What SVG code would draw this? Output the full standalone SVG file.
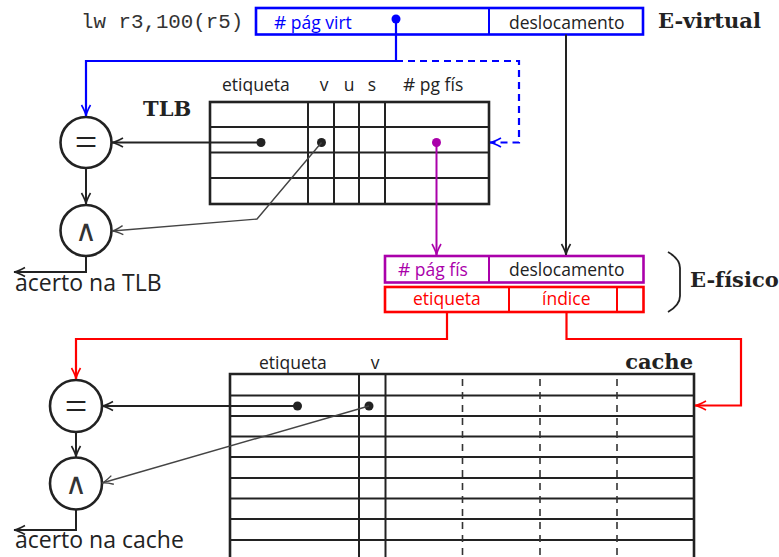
<svg xmlns="http://www.w3.org/2000/svg" width="779" height="557" viewBox="0 0 779 557">
<defs>
<style>
.lbl{font-family:"Open Sans","DejaVu Sans",sans-serif;font-size:17.5px;fill:#222}
.big{font-family:"Open Sans","DejaVu Sans",sans-serif;font-size:23px;fill:#222}
.ttl{font-family:"DejaVu Serif","Liberation Serif",serif;font-weight:bold;font-size:21px;fill:#222}
.mono{font-family:"Liberation Mono","DejaVu Sans Mono",monospace;font-size:20.8px;fill:#333}
.tbl{fill:none;stroke:#222;stroke-width:2.6}
.grid{stroke:#222;stroke-width:2}
.dash{stroke:#333;stroke-width:1.6;stroke-dasharray:7 6}
.circ{fill:#fff;stroke:#222;stroke-width:2.6}
.eq{font-family:"Liberation Serif","Times New Roman",serif;font-size:40px;fill:#222;text-anchor:middle}
.and{font-family:"DejaVu Sans",sans-serif;font-weight:200;font-size:30px;fill:#333;text-anchor:middle}
.c-blk{fill:none;stroke:#222;stroke-width:2}
.c-gry{fill:none;stroke:#444;stroke-width:1.4}
.c-blu{fill:none;stroke:#0000ff;stroke-width:2.2}
.c-mag{fill:none;stroke:#aa00aa;stroke-width:2}
.c-red{fill:none;stroke:#ff0000;stroke-width:2.2}
.dot{fill:#222}
</style>
<marker id="ak" viewBox="-12 -6 14 12" refX="0" refY="0" markerWidth="14" markerHeight="12" markerUnits="userSpaceOnUse" orient="auto"><path d="M-11,-4.5 Q-4,-0.6 0,0 Q-4,0.6 -11,4.5" fill="none" stroke="#222" stroke-width="1.6"/></marker>
<marker id="ag" viewBox="-12 -6 14 12" refX="0" refY="0" markerWidth="14" markerHeight="12" markerUnits="userSpaceOnUse" orient="auto"><path d="M-11,-4.5 Q-4,-0.6 0,0 Q-4,0.6 -11,4.5" fill="none" stroke="#444" stroke-width="1.4"/></marker>
<marker id="ab" viewBox="-12 -6 14 12" refX="0" refY="0" markerWidth="14" markerHeight="12" markerUnits="userSpaceOnUse" orient="auto"><path d="M-11,-4.5 Q-4,-0.6 0,0 Q-4,0.6 -11,4.5" fill="none" stroke="#0000ff" stroke-width="1.6"/></marker>
<marker id="am" viewBox="-12 -6 14 12" refX="0" refY="0" markerWidth="14" markerHeight="12" markerUnits="userSpaceOnUse" orient="auto"><path d="M-11,-4.5 Q-4,-0.6 0,0 Q-4,0.6 -11,4.5" fill="none" stroke="#aa00aa" stroke-width="1.6"/></marker>
<marker id="ar" viewBox="-12 -6 14 12" refX="0" refY="0" markerWidth="14" markerHeight="12" markerUnits="userSpaceOnUse" orient="auto"><path d="M-11,-4.5 Q-4,-0.6 0,0 Q-4,0.6 -11,4.5" fill="none" stroke="#ff0000" stroke-width="1.6"/></marker>
</defs>
<rect width="779" height="557" fill="#fff"/>

<g id="instr"><text class="mono" x="81" y="28">lw r3,100(r5)</text></g>

<g id="evirtual">
<rect x="256" y="8" width="387" height="26.5" fill="none" stroke="#0000ff" stroke-width="2.6"/>
<line x1="489" y1="8" x2="489" y2="34.5" stroke="#0000ff" stroke-width="2"/>
<text class="lbl" x="274" y="29" style="fill:#0000ff"><tspan font-size="19">#</tspan> pág virt</text>
<text class="lbl" x="509" y="29">deslocamento</text>
<text class="ttl" x="658" y="28">E-virtual</text>
</g>

<g id="tlb">
<text class="lbl" x="222" y="91">etiqueta</text>
<text class="lbl" x="324" y="91" text-anchor="middle">v</text>
<text class="lbl" x="349" y="91" text-anchor="middle">u</text>
<text class="lbl" x="372" y="91" text-anchor="middle">s</text>
<text class="lbl" x="403" y="91"><tspan font-size="19">#</tspan> pg fís</text>
<text class="ttl" x="143" y="116">TLB</text>
<line class="grid" x1="210" y1="127" x2="489" y2="127"/>
<line class="grid" x1="210" y1="152.5" x2="489" y2="152.5"/>
<line class="grid" x1="210" y1="178" x2="489" y2="178"/>
<line class="grid" x1="308" y1="102" x2="308" y2="204"/>
<line class="grid" x1="334" y1="102" x2="334" y2="204"/>
<line class="grid" x1="359" y1="102" x2="359" y2="204"/>
<line class="grid" x1="385" y1="102" x2="385" y2="204"/>
<rect class="tbl" x="210" y="102" width="279" height="102"/>
</g>

<g id="eq-tlb"><circle class="circ" cx="86" cy="142.5" r="25.5"/><text class="eq" x="86" y="156">=</text></g>
<g id="and-tlb"><circle class="circ" cx="86" cy="230.5" r="25.5"/><text class="and" x="86" y="241">∧</text></g>
<g id="hit-tlb"><text class="big" x="15" y="291">acerto na TLB</text></g>

<g id="efisico">
<rect x="385" y="256" width="258.5" height="26.5" fill="none" stroke="#aa00aa" stroke-width="2.6"/>
<line x1="489" y1="256" x2="489" y2="282.5" stroke="#aa00aa" stroke-width="2"/>
<text class="lbl" x="398" y="276" style="fill:#aa00aa"><tspan font-size="19">#</tspan> pág fís</text>
<text class="lbl" x="509" y="276">deslocamento</text>
<rect x="385" y="287" width="258.5" height="25" fill="none" stroke="#ff0000" stroke-width="2.6"/>
<line x1="509" y1="287" x2="509" y2="312" stroke="#ff0000" stroke-width="2"/>
<line x1="617" y1="287" x2="617" y2="312" stroke="#ff0000" stroke-width="2"/>
<text class="lbl" x="413" y="305" style="fill:#ff0000">etiqueta</text>
<text class="lbl" x="542" y="305" style="fill:#ff0000">índice</text>
<path d="M668,252 Q680,259 680,268 L680,296 Q680,305 668,312" fill="none" stroke="#222" stroke-width="1.8"/>
<text class="ttl" x="690" y="287">E-físico</text>
</g>

<g id="cache">
<text class="lbl" x="259" y="369">etiqueta</text>
<text class="lbl" x="375" y="369" text-anchor="middle">v</text>
<text class="ttl" x="693" y="369" text-anchor="end">cache</text>
<line class="grid" x1="230" y1="395.5" x2="694" y2="395.5"/>
<line class="grid" x1="230" y1="416" x2="694" y2="416"/>
<line class="grid" x1="230" y1="436.5" x2="694" y2="436.5"/>
<line class="grid" x1="230" y1="457" x2="694" y2="457"/>
<line class="grid" x1="230" y1="478" x2="694" y2="478"/>
<line class="grid" x1="230" y1="498.5" x2="694" y2="498.5"/>
<line class="grid" x1="230" y1="519" x2="694" y2="519"/>
<line class="grid" x1="230" y1="540" x2="694" y2="540"/>
<line class="grid" x1="359" y1="374" x2="359" y2="560"/>
<line class="grid" x1="385.5" y1="374" x2="385.5" y2="560"/>
<line class="dash" x1="462.5" y1="379" x2="462.5" y2="560"/>
<line class="dash" x1="540" y1="379" x2="540" y2="560"/>
<line class="dash" x1="617" y1="379" x2="617" y2="560"/>
<path class="tbl" d="M230,562 L230,374 L694,374 L694,562"/>
</g>

<g id="eq-cache"><circle class="circ" cx="76" cy="406" r="26"/><text class="eq" x="76" y="419.5">=</text></g>
<g id="and-cache"><circle class="circ" cx="76" cy="483.5" r="26"/><text class="and" x="76" y="494">∧</text></g>
<g id="hit-cache"><text class="big" x="15" y="548">acerto na cache</text></g>

<g id="connectors">
<circle class="dot" cx="396" cy="19" r="4.5" style="fill:#0000ff"/>
<path class="c-blu" d="M396,19 L396,61 L86,61 L86,116" marker-end="url(#ab)"/>
<path class="c-blu" d="M396,61 L519,61 L519,142.5 L490,142.5" stroke-dasharray="7 5" marker-end="url(#ab)"/>
<path class="c-blk" d="M566,34.5 L566,255" marker-end="url(#ak)"/>
<circle class="dot" cx="261" cy="142.5" r="4.5"/>
<path class="c-blk" d="M261,142.5 L112,142.5" marker-end="url(#ak)"/>
<circle class="dot" cx="321.5" cy="142.5" r="4.5"/>
<path class="c-gry" d="M321.5,142.5 L257,219 L112,231" marker-end="url(#ag)"/>
<path class="c-blk" d="M86,168 L86,204" marker-end="url(#ak)"/>
<path class="c-blk" d="M86,256 L86,272 L14,272" marker-end="url(#ak)"/>
<circle class="dot" cx="436.5" cy="142.5" r="4.5" style="fill:#aa00aa"/>
<path class="c-mag" d="M436.5,142.5 L436.5,255" marker-end="url(#am)"/>
<path class="c-red" d="M447,312 L447,339 L76,339 L76,379" marker-end="url(#ar)"/>
<path class="c-red" d="M566.5,312 L566.5,339 L741,339 L741,405.5 L695,405.5" marker-end="url(#ar)"/>
<circle class="dot" cx="297.5" cy="406" r="4.5"/>
<path class="c-blk" d="M297.5,406 L102,406" marker-end="url(#ak)"/>
<circle class="dot" cx="369" cy="406" r="4.5"/>
<path class="c-gry" d="M369,406 L102,483" marker-end="url(#ag)"/>
<path class="c-blk" d="M76,432 L76,457" marker-end="url(#ak)"/>
<path class="c-blk" d="M76,509.5 L76,530 L14,530" marker-end="url(#ak)"/>
</g>
</svg>
